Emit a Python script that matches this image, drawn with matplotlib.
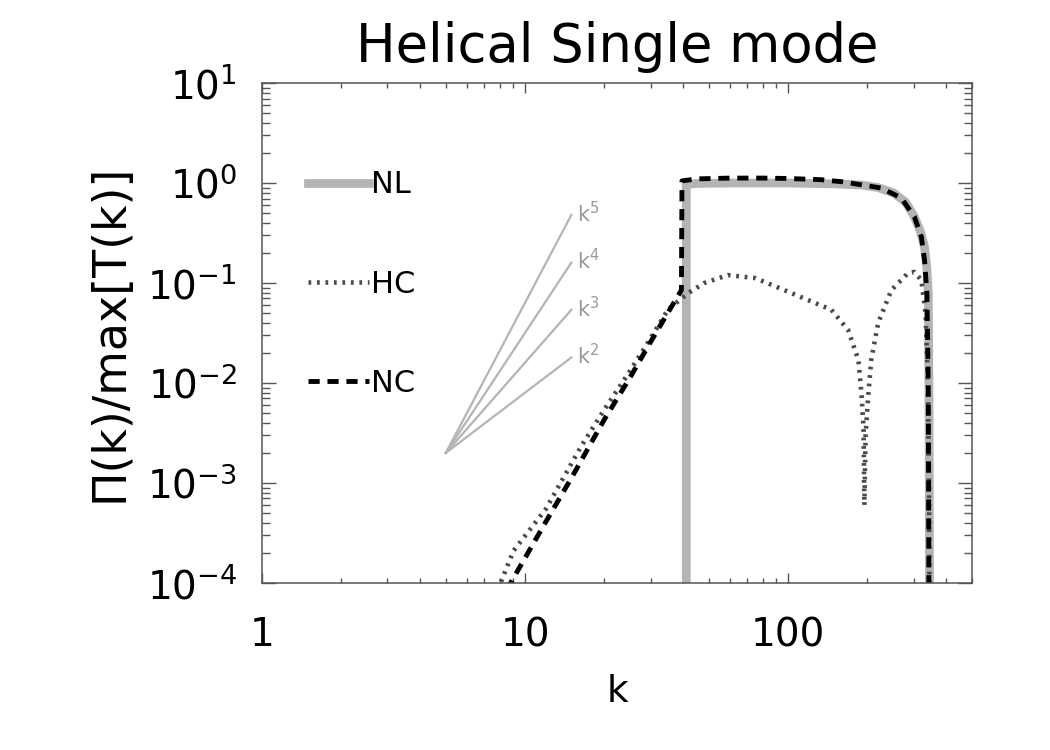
import numpy as np
import matplotlib.pyplot as plt
from matplotlib import ticker

# NL: thick gray
nl_k = [41.0, 41.0, 45, 60, 80, 100, 150, 190, 220, 253, 280, 302, 318, 330, 337, 341, 343, 344, 345]
nl_v = [5e-5, 0.97, 0.99, 1.0, 1.0, 1.0, 0.98, 0.955, 0.90, 0.79, 0.64, 0.46, 0.33, 0.23, 0.14, 0.079, 0.01, 1e-3, 5e-5]

# HC: dotted
hc_k = [7.8, 8.07, 9.04, 12, 16.3, 20, 25.2, 30, 34.9, 41.6, 48, 59, 75, 96.6, 125, 146, 169, 185, 190,
        193.5, 195, 197, 202, 207, 220, 247, 286, 302, 321, 333, 340, 343, 345]
hc_v = [8.7e-5, 1e-4, 2.1e-4, 5.5e-4, 2.3e-3, 5.4e-3, 0.0135, 0.028, 0.054, 0.079, 0.1, 0.12, 0.112, 0.085, 0.064, 0.054, 0.034, 0.017, 0.0079,
        0.0036, 6e-4, 0.003, 0.0079, 0.017, 0.040, 0.085, 0.126, 0.129, 0.107, 0.05, 0.01, 1e-3, 5e-5]

# NC: dashed black
nc_k = [8.5, 10, 12, 15, 20, 25, 30, 35, 39.3, 39.5, 45, 60, 80, 100, 133, 160, 190, 226, 269, 302, 321, 330, 337, 341, 342, 343]
nc_v = [8.5e-5, 1.78e-4, 4.1e-4, 1.12e-3, 4.3e-3, 0.0112, 0.0257, 0.051, 0.085, 1.05, 1.1, 1.12, 1.12, 1.11, 1.08, 1.03, 0.96, 0.89, 0.71, 0.46, 0.29, 0.17, 0.079, 0.01, 1e-3, 5e-5]

# power-law guides k^n
guide_k = [5, 15]
guide_start = 2e-3
guide_end = [0.48, 0.16, 0.054, 0.018]
guide_labels = ['5', '4', '3', '2']

fig = plt.figure(figsize=(10.5, 7.5), dpi=100)
ax = fig.add_axes([0.2495, 0.2227, 0.6762, 0.6666])

ax.plot(nl_k, nl_v, color='#b4b4b4', lw=6.3, label='NL', solid_joinstyle='round')
ax.plot(hc_k, hc_v, color='#4a4a4a', lw=3.3, linestyle=(0, (0.6, 1.25)), label='HC')
ax.plot(nc_k, nc_v, color='black', lw=3.5, linestyle=(0, (2.3, 1.6)), label='NC')

for end, lab in zip(guide_end, guide_labels):
    ax.plot(guide_k, [guide_start, end], color='#b4b4b4', lw=1.6)
    ax.annotate('k$^{%s}$' % lab, xy=(guide_k[1], end), xytext=(4, -5),
                textcoords='offset points', va='baseline', ha='left',
                fontsize=15, color='#999999')

ax.set_xscale('log')
ax.set_yscale('log')
ax.set_xlim(1, 500)
ax.set_ylim(1e-4, 10)

ax.set_xticks([1, 10, 100])
ax.set_xticklabels(['1', '10', '100'])
ax.xaxis.set_minor_locator(ticker.LogLocator(base=10, subs=np.arange(2, 10), numticks=100))
ax.yaxis.set_major_locator(ticker.LogLocator(base=10, numticks=100))
ax.yaxis.set_minor_locator(ticker.LogLocator(base=10, subs=np.arange(2, 10), numticks=100))
ax.xaxis.set_minor_formatter(ticker.NullFormatter())
ax.yaxis.set_minor_formatter(ticker.NullFormatter())

ax.tick_params(which='both', direction='in', top=True, right=True, color='#555555', width=1.0, labelsize=28)
ax.tick_params(axis='x', which='major', length=7, pad=24)
ax.tick_params(axis='x', which='minor', length=3.5)
ax.tick_params(axis='y', which='major', length=10, pad=18)
ax.tick_params(axis='y', which='minor', length=6)
for s in ax.spines.values():
    s.set_color('#555555')
    s.set_linewidth(1.1)

ax.set_title('Helical Single mode', fontsize=38, pad=15)
ax.set_xlabel('k', fontsize=27, labelpad=14)
ax.set_ylabel('Π(k)/max[T(k)]', fontsize=33, labelpad=10)

ax.legend(loc='center left', bbox_to_anchor=(0.0648, 0.598), frameon=False, fontsize=22,
          handlelength=2.0, handletextpad=0.05, labelspacing=2.3, borderpad=0, borderaxespad=0)

fig.savefig('out.png', dpi=100)
